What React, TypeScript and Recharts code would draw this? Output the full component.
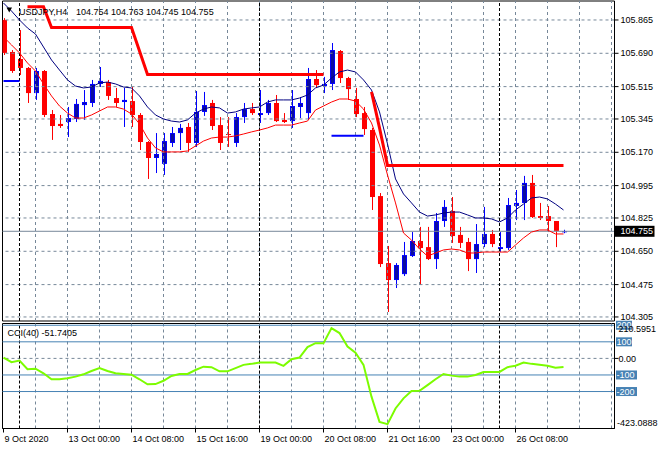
import React from 'react';
import { ComposedChart, Bar, Line, XAxis, YAxis, ReferenceLine, ReferenceArea } from 'recharts';

const FONT = '"Liberation Sans", Arial, sans-serif';
const GRID = '#778899';

// H4 bars, index 0 = 9 Oct 2020 16:00
const opens = [105.865, 105.697, 105.660, 105.613, 105.481, 105.597, 105.371, 105.319, 105.329, 105.345,
  105.418, 105.429, 105.529, 105.539, 105.455, 105.434, 105.439, 105.366, 105.224, 105.140,
  105.109, 105.219, 105.271, 105.303, 105.219, 105.382, 105.429, 105.313, 105.266, 105.219,
  105.355, 105.397, 105.366, 105.376, 105.429, 105.340, 105.334, 105.408, 105.376, 105.555,
  105.518, 105.529, 105.702, 105.560, 105.450, 105.376, 105.287, 104.940, 104.588, 104.499,
  104.530, 104.625, 104.704, 104.672, 104.609, 104.809, 104.862, 104.736, 104.699, 104.609,
  104.688, 104.741, 104.662, 104.667, 104.888, 104.904, 105.009, 104.835, 104.835, 104.809,
  104.754];
const highs = [105.875, 105.707, 105.812, 105.618, 105.613, 105.602, 105.392, 105.366, 105.408, 105.450,
  105.497, 105.550, 105.618, 105.550, 105.508, 105.508, 105.513, 105.376, 105.229, 105.271,
  105.271, 105.303, 105.319, 105.324, 105.492, 105.487, 105.445, 105.355, 105.355, 105.376,
  105.429, 105.429, 105.497, 105.445, 105.471, 105.376, 105.497, 105.460, 105.613, 105.602,
  105.566, 105.744, 105.707, 105.566, 105.508, 105.408, 105.298, 104.956, 104.678, 104.588,
  104.699, 104.751, 104.778, 104.778, 104.851, 104.919, 104.935, 104.778, 104.720, 104.793,
  104.883, 104.762, 104.751, 104.930, 104.972, 105.046, 105.051, 104.904, 104.888, 104.809,
  104.763];
const lows = [105.681, 105.587, 105.576, 105.429, 105.445, 105.355, 105.235, 105.298, 105.250, 105.329,
  105.340, 105.408, 105.513, 105.445, 105.408, 105.303, 105.303, 105.182, 105.030, 105.061,
  105.051, 105.198, 105.182, 105.172, 105.198, 105.361, 105.287, 105.182, 105.198, 105.198,
  105.324, 105.366, 105.324, 105.366, 105.329, 105.324, 105.298, 105.350, 105.340, 105.508,
  105.481, 105.497, 105.534, 105.445, 105.355, 105.261, 104.867, 104.567, 104.331, 104.457,
  104.520, 104.620, 104.473, 104.604, 104.557, 104.778, 104.694, 104.667, 104.546, 104.536,
  104.672, 104.672, 104.646, 104.657, 104.814, 104.814, 104.825, 104.814, 104.751, 104.672,
  104.745];
const closes = [105.692, 105.597, 105.613, 105.481, 105.597, 105.366, 105.308, 105.308, 105.350, 105.424,
  105.434, 105.529, 105.545, 105.466, 105.429, 105.445, 105.366, 105.224, 105.140, 105.161,
  105.229, 105.271, 105.298, 105.219, 105.382, 105.418, 105.308, 105.219, 105.261, 105.355,
  105.397, 105.376, 105.376, 105.429, 105.334, 105.329, 105.413, 105.429, 105.555, 105.523,
  105.529, 105.707, 105.560, 105.502, 105.371, 105.292, 104.935, 104.583, 104.499, 104.578,
  104.630, 104.704, 104.667, 104.609, 104.809, 104.883, 104.730, 104.694, 104.609, 104.688,
  104.741, 104.688, 104.672, 104.893, 104.904, 105.009, 104.830, 104.825, 104.809, 104.757,
  104.755];

// slow (navy) and fast (red) moving averages
const maSlow = [105.954, 105.912, 105.865, 105.823, 105.791, 105.723, 105.655, 105.602, 105.550, 105.518,
  105.508, 105.513, 105.534, 105.539, 105.529, 105.513, 105.508, 105.466, 105.408, 105.366,
  105.345, 105.334, 105.329, 105.340, 105.376, 105.397, 105.408, 105.403, 105.376, 105.382,
  105.397, 105.403, 105.408, 105.434, 105.445, 105.445, 105.445, 105.455, 105.471, 105.508,
  105.523, 105.560, 105.592, 105.602, 105.592, 105.550, 105.497, 105.382, 105.214, 105.030,
  104.951, 104.904, 104.856, 104.835, 104.841, 104.851, 104.856, 104.856, 104.841, 104.825,
  104.825, 104.820, 104.804, 104.825, 104.867, 104.898, 104.930, 104.935, 104.925, 104.898,
  104.867];
const maFast = [105.776, 105.734, 105.692, 105.639, 105.597, 105.529, 105.466, 105.413, 105.376, 105.350,
  105.350, 105.366, 105.387, 105.408, 105.408, 105.397, 105.371, 105.319, 105.245, 105.193,
  105.172, 105.172, 105.172, 105.177, 105.203, 105.229, 105.245, 105.250, 105.250, 105.256,
  105.266, 105.277, 105.287, 105.298, 105.313, 105.313, 105.313, 105.324, 105.334, 105.392,
  105.413, 105.434, 105.450, 105.450, 105.439, 105.397, 105.324, 105.208, 105.051, 104.904,
  104.746, 104.709, 104.662, 104.625, 104.641, 104.657, 104.662, 104.657, 104.641, 104.641,
  104.646, 104.646, 104.646, 104.646, 104.683, 104.720, 104.751, 104.762, 104.762, 104.741,
  104.741];

// trailing stop indicator: red (above price) and blue (below price) buffers
const stopRed: (number | null)[] = [null, null, null, 105.935, 105.935, 105.935, 105.825, 105.825, 105.825, 105.825,
  105.825, 105.825, 105.825, 105.825, 105.825, 105.825, 105.825, 105.702, 105.579, 105.579,
  105.579, 105.579, 105.579, 105.579, 105.579, 105.579, 105.579, 105.579, 105.579, 105.579,
  105.579, 105.579, 105.579, 105.579, 105.579, 105.579, 105.579, 105.579, 105.579, 105.579,
  105.579, null, null, null, null, null, 105.487, 105.298, 105.101, 105.101,
  105.101, 105.101, 105.101, 105.101, 105.101, 105.101, 105.101, 105.101, 105.101, 105.101,
  105.101, 105.101, 105.101, 105.101, 105.101, 105.101, 105.101, 105.101, 105.101, 105.101,
  105.101];
const stopBlue: (number | null)[] = [105.545, 105.545, 105.545, null, null, null, null, null, null, null,
  null, null, null, null, null, null, null, null, null, null,
  null, null, null, null, null, null, null, null, null, null,
  null, null, null, null, null, null, null, null, null, null,
  null, 105.257, 105.257, 105.257, 105.257, 105.257, null, null, null, null,
  null, null, null, null, null, null, null, null, null, null,
  null, null, null, null, null, null, null, null, null, null,
  null];

const cci = [5, -23, -13, -65, -62, -90, -126, -126, -120, -110,
  -96, -76, -58, -76, -90, -94, -98, -126, -156, -155,
  -135, -106, -94, -94, -70, -50, -53, -78, -78, -59,
  -39, -33, -25, -25, -25, -45, -5, 5, 68, 92,
  92, 183, 153, 72, 35, -39, -231, -383, -397, -302,
  -241, -197, -195, -161, -126, -94, -104, -110, -110, -100,
  -82, -82, -82, -53, -44, -25, -33, -39, -45, -56,
  -51.7405];

const timeTickIdx = [0, 8, 16, 24, 32, 40, 48, 56, 64];
const timeLabels = ['9 Oct 2020', '13 Oct 00:00', '14 Oct 08:00', '15 Oct 16:00', '19 Oct 00:00',
  '20 Oct 08:00', '21 Oct 16:00', '23 Oct 00:00', '26 Oct 08:00'];
const gridIdx = [4, 8, 12, 16, 20, 24, 28, 32, 36, 40, 44, 48, 52, 56, 60, 64, 68, 72, 76];
const weekSeparatorIdx = [2, 32, 62];
const priceTicks = [104.305, 104.475, 104.65, 104.825, 104.995, 105.17, 105.345, 105.515, 105.69, 105.865];
const priceTickLabels = ['104.305', '104.475', '104.650', '104.825', '104.995', '105.170', '105.345', '105.515', '105.690', '105.865'];
const priceDomain = [104.2838, 105.9647];
const barDomain = [-0.125, 76.375];
const lastPrice = 104.755;
const headerSymbol = 'USDJPY,H4';
const headerPrices = '104.754 104.763 104.745 104.755';
const cciTitle = 'CCI(40) -51.7405';
const cciDomain = [-423.0888, 210.5951];
const cciLevels = [200, 100, -100, -200];
const cciTicks = [200, 210.5951, 100, 0, -100, -200, -423.0888];
const cciTickLabels = ['200', '210.5951', '100', '0.00', '-100', '-200', '-423.0888'];

const data = opens.map((open, i) => ({
  i, open, high: highs[i], low: lows[i], close: closes[i],
  maSlow: maSlow[i], maFast: maFast[i], stopRed: stopRed[i], stopBlue: stopBlue[i], cci: cci[i],
}));

const Candle = (props: any) => {
  const { x, y, width, height, payload } = props;
  if (x == null || y == null || !payload) return null;
  const { open, high, low, close } = payload;
  const top = Math.min(y, y + height);
  const h = Math.abs(height);
  const cx = Math.round(x + width / 2) + 0.5;
  const range = high - low || 1;
  const toY = (v: number) => top + ((high - v) / range) * h;
  const yO = toY(open);
  const yC = toY(close);
  const bull = close >= open;
  const bodyTop = Math.min(yO, yC);
  const bodyH = Math.max(Math.abs(yC - yO), 1);
  const color = bull ? '#0000ff' : '#ff0000';
  return (
    <g>
      <line x1={cx} x2={cx} y1={top} y2={top + h} stroke={color} strokeWidth={1} />
      {bull ? (
        bodyH > 2 ? (
          <rect x={cx - 2} y={bodyTop + 0.5} width={4} height={bodyH - 1} fill="#0c0ca0" stroke="#0000ff" strokeWidth={1} />
        ) : (
          <rect x={cx - 2.5} y={bodyTop} width={5} height={bodyH} fill="#0000ff" />
        )
      ) : (
        <rect x={cx - 2.5} y={bodyTop} width={5} height={bodyH} fill="#ff0000" />
      )}
    </g>
  );
};

const PriceTag = (props: any) => {
  const vb = props.viewBox || {};
  const right = (vb.x || 0) + (vb.width || 0);
  const y = vb.y || 0;
  return (
    <g>
      <rect x={right} y={y - 5.5} width={40} height={11} fill="#000" />
      <text x={right + 6} y={y} dy="0.35em" fill="#fff" fontSize={9} fontFamily={FONT}>{lastPrice.toFixed(3)}</text>
    </g>
  );
};

const TimeTick = (props: any) => {
  const { x, y, payload } = props;
  const k = timeTickIdx.indexOf(payload.value);
  if (k < 0) return null;
  return (
    <text x={x + 1} y={y} dy={7} textAnchor="start" fontSize={9} fill="#000" fontFamily={FONT}>{timeLabels[k]}</text>
  );
};

const CciTick = (props: any) => {
  const { x, y, payload } = props;
  const v = payload.value;
  const k = cciTicks.indexOf(v);
  if (k < 0) return null;
  const label = cciTickLabels[k];
  if (cciLevels.includes(v)) {
    const w = label.length * 5 + 1;
    return (
      <g>
        <rect x={x + 1.5} y={y - 4.5} width={w} height={9} fill="#4682b4" />
        <text x={x + 2} y={y} dy="0.35em" fill="#fff" fontSize={9} fontFamily={FONT}>{label}</text>
      </g>
    );
  }
  let dy = 0;
  if (v === cciDomain[1]) dy = 5;
  if (v === cciDomain[0]) dy = -6;
  return (
    <g>
      {v === 0 && <line x1={x} x2={x + 4} y1={y} y2={y} stroke="#000" />}
      <text x={x + (v < 0 ? 2.5 : 4)} y={y + dy} dy="0.35em" fill="#000" fontSize={9} fontFamily={FONT}>{label}</text>
    </g>
  );
};

export default function App() {
  return (
    <div style={{ position: 'absolute', left: 0, top: 0, width: 660, height: 450, background: '#fff', overflow: 'hidden' }}>
      <div style={{ position: 'absolute', left: 0, top: 0 }}>
        <ComposedChart width={660} height={450} data={data} margin={{ top: 1, right: 0, bottom: 129, left: 2.5 }}>
          <XAxis dataKey="i" type="number" domain={barDomain} allowDataOverflow hide />
          <YAxis
            orientation="right"
            width={45.5}
            type="number"
            domain={priceDomain}
            allowDataOverflow
            ticks={priceTicks}
            interval={0}
            tickFormatter={(v: number) => priceTickLabels[priceTicks.indexOf(v)]}
            tick={{ fontSize: 9, fill: '#000', fontFamily: FONT }}
            tickSize={4}
            tickMargin={2}
            tickLine={{ stroke: '#000' }}
            axisLine={{ stroke: '#000' }}
          />
          {priceTicks.map((v) => (
            <ReferenceLine key={'h' + v} y={v} stroke={GRID} strokeDasharray="3 3" />
          ))}
          {gridIdx.map((v) => (
            <ReferenceLine key={'v' + v} x={v} stroke={GRID} strokeDasharray="3 3" />
          ))}
          {weekSeparatorIdx.map((v) => (
            <ReferenceLine key={'s' + v} x={v} stroke="#000" strokeDasharray="3 2" />
          ))}
          <ReferenceLine y={lastPrice} stroke="#778899" label={PriceTag} />
          <Bar dataKey={(d: any) => [d.low, d.high]} shape={(p: any) => <Candle {...p} />} barSize={6} isAnimationActive={false} />
          <Line dataKey="maSlow" stroke="#000080" strokeWidth={1} dot={false} activeDot={false} isAnimationActive={false} />
          <Line dataKey="maFast" stroke="#ff0000" strokeWidth={1} dot={false} activeDot={false} isAnimationActive={false} />
          <Line dataKey="stopRed" stroke="#ff0000" strokeWidth={3} dot={false} activeDot={false} isAnimationActive={false} />
          <Line dataKey="stopBlue" stroke="#0000ff" strokeWidth={2} dot={false} activeDot={false} isAnimationActive={false} />
          <ReferenceArea x1={barDomain[0]} x2={barDomain[1]} y1={priceDomain[0]} y2={priceDomain[1]} fill="none" fillOpacity={0} stroke="#000" strokeWidth={1} />
        </ComposedChart>
      </div>
      <div style={{ position: 'absolute', left: 0, top: 0 }}>
        <ComposedChart width={660} height={450} data={data} margin={{ top: 323.5, right: 0, bottom: 1.5, left: 2.5 }}>
          <XAxis
            dataKey="i"
            type="number"
            domain={barDomain}
            allowDataOverflow
            ticks={timeTickIdx}
            interval={0}
            tick={(p: any) => <TimeTick {...p} />}
            tickSize={4}
            tickMargin={2}
            tickLine={{ stroke: '#000' }}
            axisLine={{ stroke: '#000' }}
            height={20}
          />
          <YAxis
            orientation="right"
            width={45.5}
            type="number"
            domain={cciDomain}
            allowDataOverflow
            ticks={cciTicks}
            interval={0}
            tick={(p: any) => <CciTick {...p} />}
            tickLine={false}
            tickSize={0}
            tickMargin={0}
            axisLine={{ stroke: '#000' }}
          />
          <ReferenceLine y={0} stroke={GRID} strokeDasharray="3 3" />
          {gridIdx.map((v) => (
            <ReferenceLine key={'cv' + v} x={v} stroke={GRID} strokeDasharray="3 3" />
          ))}
          {weekSeparatorIdx.map((v) => (
            <ReferenceLine key={'cs' + v} x={v} stroke="#000" strokeDasharray="3 2" />
          ))}
          {cciLevels.map((v) => (
            <ReferenceLine key={'l' + v} y={v} stroke="#4682b4" strokeWidth={1} />
          ))}
          <Line dataKey="cci" stroke="#7cfc00" strokeWidth={2} dot={false} activeDot={false} isAnimationActive={false} />
          <ReferenceArea x1={barDomain[0]} x2={barDomain[1]} y1={cciDomain[0]} y2={cciDomain[1]} fill="none" fillOpacity={0} stroke="#000" strokeWidth={1} />
        </ComposedChart>
      </div>
      <svg width={660} height={450} style={{ position: 'absolute', left: 0, top: 0, pointerEvents: 'none' }}>
        <polygon points="6.5,7.5 12,7.5 9.25,12.5" fill="#000" />
        <text x={19} y={14.5} fontSize={9} fill="#000" fontFamily={FONT}>{headerSymbol}</text>
        <text x={76} y={14.5} fontSize={9} fill="#000" fontFamily={FONT}>{headerPrices}</text>
        <text x={7.5} y={335.5} fontSize={9} fill="#000" fontFamily={FONT}>{cciTitle}</text>
      </svg>
    </div>
  );
}
